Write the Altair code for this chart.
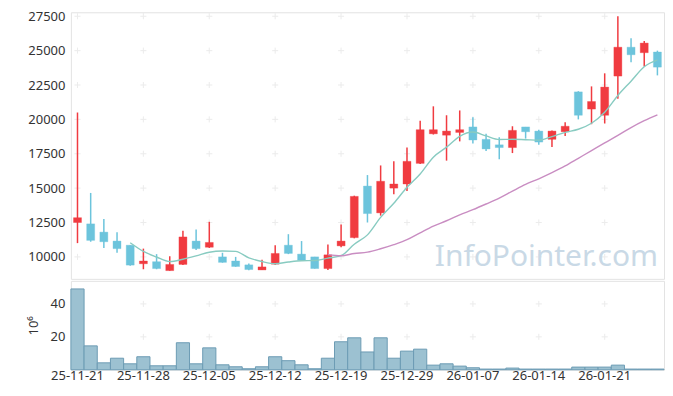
import altair as alt
import pandas as pd

dates = ["25-11-21", "25-11-24", "25-11-25", "25-11-26", "25-11-27", "25-11-28",
         "25-12-01", "25-12-02", "25-12-03", "25-12-04", "25-12-05",
         "25-12-08", "25-12-09", "25-12-10", "25-12-11", "25-12-12",
         "25-12-15", "25-12-16", "25-12-17", "25-12-18", "25-12-19",
         "25-12-22", "25-12-23", "25-12-24", "25-12-26", "25-12-29",
         "25-12-30", "26-01-02", "26-01-05", "26-01-06", "26-01-07",
         "26-01-08", "26-01-09", "26-01-12", "26-01-13", "26-01-14",
         "26-01-15", "26-01-16", "26-01-19", "26-01-20", "26-01-21",
         "26-01-22", "26-01-23", "26-01-26", "26-01-27"]

opens = [12500, 12400, 11800, 11150, 10850, 9500, 9650, 9000, 9450, 11150,
         10700, 10000, 9700, 9420, 9050, 9470, 10850, 10200, 10000, 9150,
         10800, 11400, 15150, 13200, 15000, 15300, 16800, 18950, 18850, 19050,
         19450, 18550, 18150, 17950, 19450, 19150, 18550, 19100, 22000, 20750,
         20300, 23150, 25250, 24850, 24900]
highs = [20500, 14650, 12750, 11800, 10850, 10600, 10200, 10050, 11900, 12000,
         12550, 10300, 10000, 9520, 9800, 10850, 11650, 11150, 10000, 10900,
         12350, 14450, 15950, 16650, 16950, 17950, 19900, 20950, 20300, 20650,
         20150, 18950, 18700, 19500, 19450, 19250, 19200, 19800, 22050, 22400,
         23350, 27500, 25900, 25700, 25000]
lows = [11000, 11100, 10650, 10300, 9350, 9100, 9100, 8990, 9400, 10500,
        10650, 9580, 9280, 9030, 9050, 9420, 10200, 9700, 9150, 9050,
        10700, 11350, 12500, 13000, 14550, 14800, 16750, 18900, 17000, 18400,
        18250, 17700, 17100, 17550, 18600, 18150, 18000, 18800, 20000, 19650,
        19700, 21500, 24150, 23850, 23200]
closes = [12850, 11200, 11100, 10600, 9400, 9700, 9150, 9450, 11450, 10600,
          11050, 9600, 9300, 9080, 9270, 10250, 10250, 9750, 9150, 10150,
          11150, 14400, 13150, 15500, 15300, 16950, 19250, 19250, 19150, 19250,
          18500, 17850, 17950, 19200, 19100, 18350, 19150, 19500, 20300, 21300,
          22350, 25250, 24700, 25550, 23800]
volumes = [49.1, 14.5, 4.2, 7.0, 3.6, 7.9, 2.4, 2.4, 16.4, 3.6,
           13.3, 3.0, 1.8, 0.6, 1.8, 7.9, 5.5, 3.0, 0.6, 7.0,
           17.0, 19.4, 10.8, 19.4, 7.0, 11.3, 12.5, 2.8, 3.6, 2.2,
           1.2, 0.4, 0.4, 1.0, 0.4, 0.4, 0.4, 0.4, 1.6, 1.6,
           1.6, 2.8, 0.4, 0.4, 0.4]

price_ticks = [10000, 12500, 15000, 17500, 20000, 22500, 25000, 27500]
vol_ticks = [20, 40]
label_dates = dates[::5]

UP = "#f03b40"
DOWN = "#6cc4dc"
FONT = "Noto Sans"

df = pd.DataFrame({"i": list(range(len(dates))), "date": dates, "open": opens,
                   "high": highs, "low": lows, "close": closes, "vol": volumes})
df["dir"] = ["up" if c >= o else "down" for o, c in zip(opens, closes)]

grid_price = pd.DataFrame([(d, v) for d in label_dates for v in price_ticks],
                          columns=["date", "v"])
grid_vol = pd.DataFrame([(d, v) for d in label_dates for v in vol_ticks],
                        columns=["date", "v"])

xscale = alt.Scale(domain=dates, paddingInner=0, paddingOuter=0)
pscale = alt.Scale(domain=[8400, 27790], nice=False, zero=False)
vscale = alt.Scale(domain=[0, 54], nice=False)
cscale = alt.Scale(domain=["up", "down"], range=[UP, DOWN])

p_yaxis = alt.Axis(values=price_ticks, title=None, ticks=False, domain=False,
                   grid=False, labelPadding=6, format="d", labelOverlap=False)
v_yaxis = alt.Axis(values=vol_ticks, title="10⁶", ticks=False, domain=False,
                   grid=False, labelPadding=6, titlePadding=10, labelOverlap=False)
v_xaxis = alt.Axis(values=label_dates, labelAngle=0, ticks=False, domain=False,
                   grid=False, title=None, labelPadding=0, labelOverlap=False)

PX = alt.X("date:O", scale=xscale, axis=None)
VX = alt.X("date:O", scale=xscale, axis=v_xaxis)

W = 594
base = alt.Chart(df)

cross_shape = "M-1,0L1,0M0,-1L0,1"

pgrid = alt.Chart(grid_price).mark_point(
    shape=cross_shape, size=36, filled=False, stroke="#e4e4e4", strokeWidth=1
).encode(x=PX, y=alt.Y("v:Q", scale=pscale, axis=p_yaxis))

watermark = alt.Chart(pd.DataFrame({"t": ["InfoPointer.com"]})).mark_text(
    font=FONT, fontSize=30, color="#c9d9e6", align="right", baseline="alphabetic"
).encode(text="t:N", x=alt.value(588), y=alt.value(254))

wicks = base.mark_rule(strokeWidth=1.5).encode(
    x=PX,
    y=alt.Y("low:Q", scale=pscale, axis=p_yaxis),
    y2="high:Q",
    color=alt.Color("dir:N", scale=cscale, legend=None),
)
bodies = base.mark_bar(size=8, strokeWidth=1, strokeOpacity=0.35).encode(
    x=PX,
    y=alt.Y("open:Q", scale=pscale, axis=p_yaxis),
    y2="close:Q",
    fill=alt.Fill("dir:N", scale=cscale, legend=None),
    stroke=alt.Stroke("dir:N", scale=cscale, legend=None),
)
ma5 = base.transform_window(
    ma="mean(close)", n="count()", frame=[-4, 0], sort=[alt.SortField("i")]
).transform_filter("datum.n == 5").mark_line(
    color="#88cbc1", strokeWidth=1.4, interpolate="monotone"
).encode(x=PX, y=alt.Y("ma:Q", scale=pscale, axis=p_yaxis), order="i:Q")
ma20 = base.transform_window(
    ma="mean(close)", n="count()", frame=[-19, 0], sort=[alt.SortField("i")]
).transform_filter("datum.n == 20").mark_line(
    color="#c98dc2", strokeWidth=1.4, interpolate="monotone"
).encode(x=PX, y=alt.Y("ma:Q", scale=pscale, axis=p_yaxis), order="i:Q")

price = alt.layer(pgrid, watermark, wicks, bodies, ma5, ma20).properties(
    width=W, height=267)

vgrid = alt.Chart(grid_vol).mark_point(
    shape=cross_shape, size=36, filled=False, stroke="#e4e4e4", strokeWidth=1
).encode(x=VX, y=alt.Y("v:Q", scale=vscale, axis=v_yaxis))

vbars = base.mark_bar(fill="#9cc1d1", stroke="#6c9cb4", strokeWidth=1).encode(
    x=VX,
    y=alt.Y("vol:Q", scale=vscale, axis=v_yaxis),
)

volume = alt.layer(vgrid, vbars).properties(width=W, height=89)

chart = alt.vconcat(price, volume, spacing=0).properties(
    padding={"left": 18, "top": 1, "right": 0, "bottom": 0}
).configure_view(stroke="#e3e3e3").configure_axis(
    labelFont=FONT, labelFontSize=13, labelColor="#333333",
    titleFont=FONT, titleFontSize=13, titleColor="#333333", titleFontWeight="normal"
)

chart.save("out.html", embed_options={"renderer": "svg", "actions": False})
